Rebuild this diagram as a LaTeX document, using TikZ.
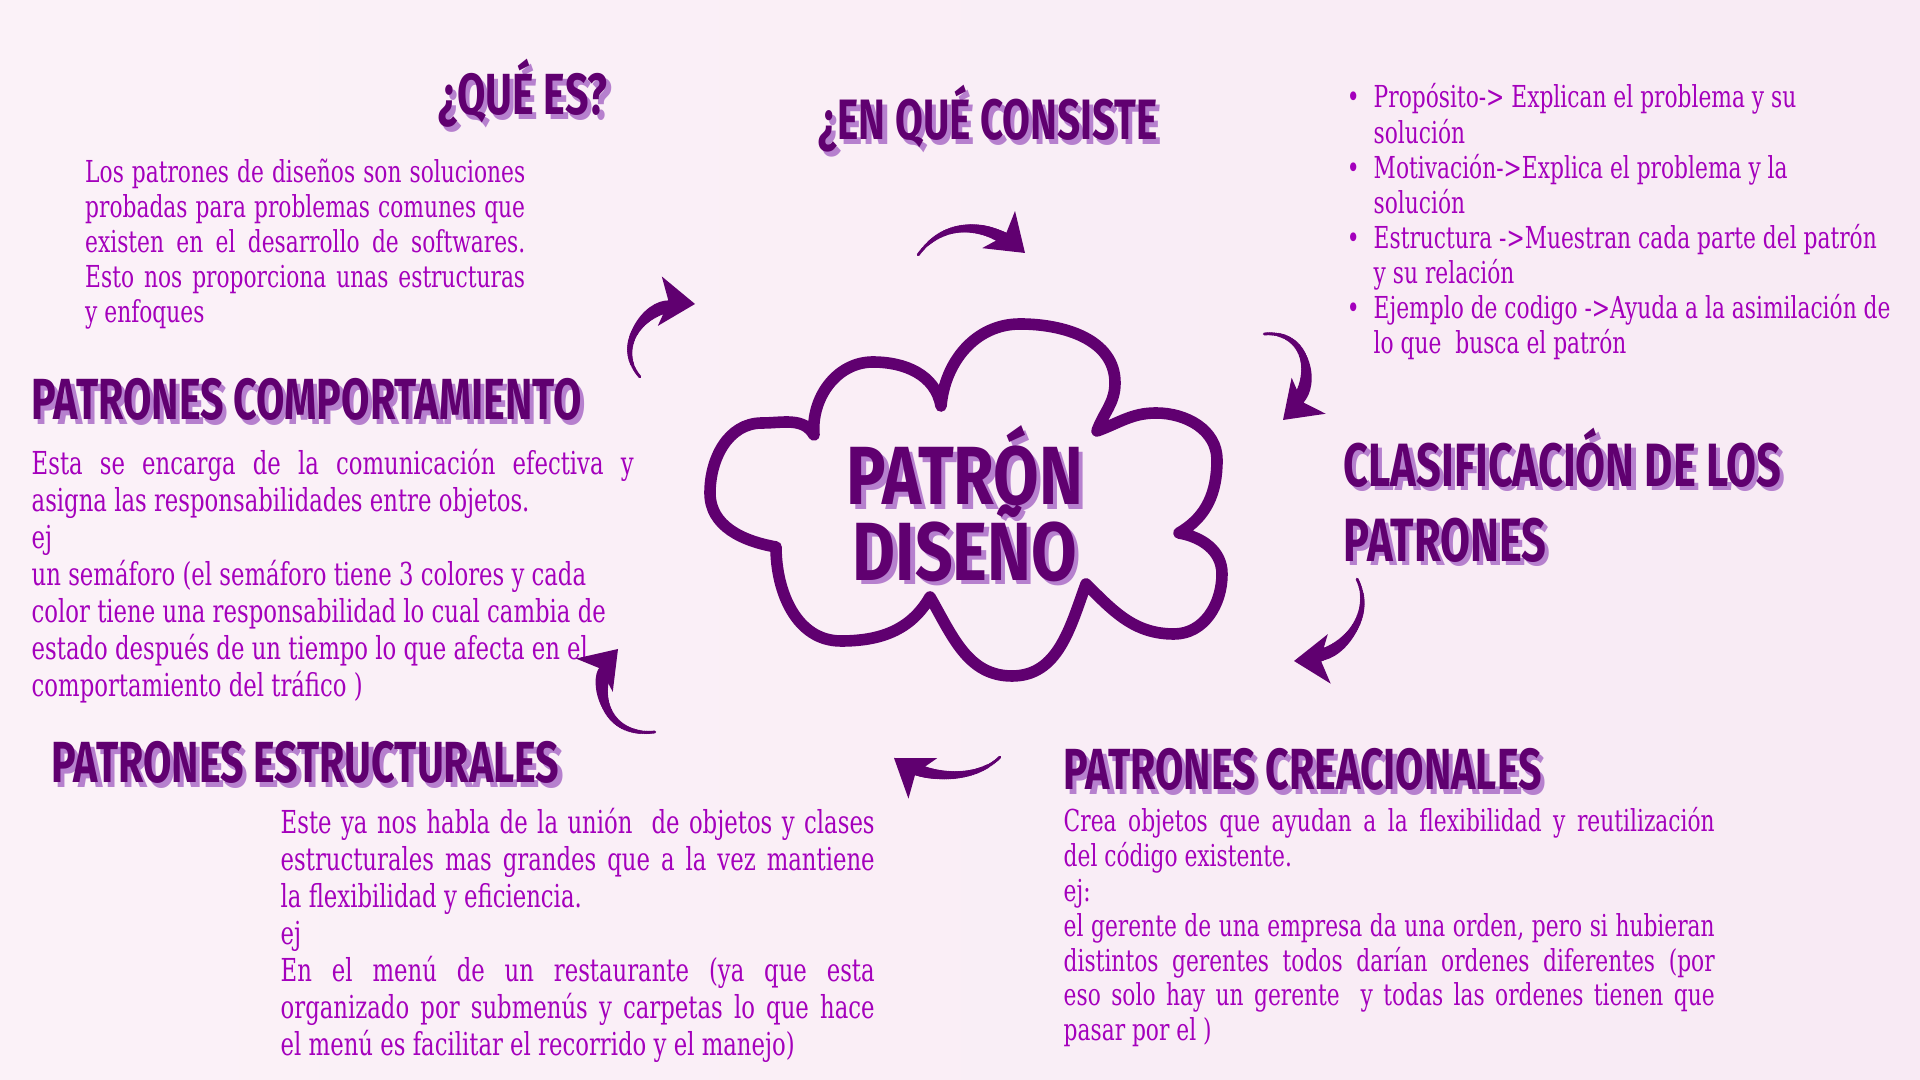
\documentclass[tikz,border=0pt]{standalone}
\usepackage{fontspec}
\usetikzlibrary{arrows.meta, decorations.markings}

\newfontfamily\bodyfont{DejaVu Serif}[FakeStretch=0.72]
\newfontfamily\headfont{Fira Sans}[FakeStretch=0.71]
\newfontfamily\titlefont{Fira Sans}[FakeStretch=0.80]

\definecolor{ink}{RGB}{96,0,112}
\definecolor{txt}{RGB}{164,0,188}
\definecolor{shade}{RGB}{182,128,206}
\definecolor{bgl}{RGB}{251,242,248}
\definecolor{bgm}{RGB}{249,244,250}
\definecolor{bgr}{RGB}{248,234,244}

% heading text with its light offset copy
\newcommand{\shad}[1]{\makebox[0pt][l]{\hspace{1.2pt}\raisebox{-1.2pt}{\textcolor{shade}{#1}}}#1}

\begin{document}
\begin{tikzpicture}[
            every node/.style={inner sep=0pt},
            heading/.style={
                text=ink,
                font={\headfont\bfseries\fontsize{16.5}{21.3}\selectfont\lineskiplimit-50pt}
            },
            body/.style={
                text=txt,
                anchor=north west,
                align=justify,
                font=\bodyfont\fontsize{9}{10.5}\selectfont
            },
            cloudline/.style={draw=ink, line width=3.3pt, line join=round, line cap=round},
            brush/.style={draw=ink, line width=0.8pt,
                -{Stealth[length=10pt, width=14pt, inset=2.5pt]},
                postaction={decorate, decoration={markings,
                    mark=between positions 0 and 0.88 step 0.5pt with {
                        \fill[ink] (0,0) circle[radius=0.35pt+1.75pt*\pgfkeysvalueof{/pgf/decoration/mark info/distance from start}/\pgfdecoratedpathlength];
                    }}}}
        ]

        % Background
        \shade[left color=bgl, middle color=bgm, right color=bgr] (0,0) rectangle (19.2,10.8);
        \useasboundingbox (0,0) rectangle (19.2,10.8);

        % Cloud
        \draw[cloudline] (7.76,5.33)
            to[out=170,in=-90] (7.10,5.87)
            to[out=90,in=180] (7.62,6.57)
            to[out=0,in=120] (8.14,6.45)
            to[out=95,in=180] (8.73,7.18)
            to[out=0,in=100] (9.41,6.74)
            to[out=85,in=180] (10.20,7.56)
            to[out=0,in=90] (11.15,6.97)
            to[out=-90,in=70] (10.97,6.49)
            to[out=20,in=180] (11.56,6.67)
            to[out=0,in=90] (12.17,6.20)
            to[out=-90,in=30] (11.79,5.47)
            to[out=-10,in=90] (12.22,5.06)
            to[out=-90,in=0] (11.74,4.46)
            to[out=180,in=-45] (10.86,4.96)
            to[out=-110,in=0] (10.12,4.04)
            to[out=180,in=-60] (9.30,4.83)
            to[out=-120,in=0] (8.41,4.39)
            to[out=180,in=-90] (7.76,5.33) -- cycle;

        % Nodes
        \node[heading, align=center, font={\titlefont\bfseries\fontsize{23.5}{21.5}\selectfont\lineskiplimit-50pt}]
            (title) at (9.65,5.74) {\shad{PATRÓN}\\\shad{DISEÑO}};

        \node[heading, anchor=base] (quees) at (5.23,9.65) {\shad{¿QUÉ ES?}};
        \node[body, text width=4.40cm, font=\bodyfont\fontsize{8.6}{10}\selectfont]
            (quetxt) at (0.845,9.22) {Los patrones de diseños son soluciones\linebreak
            probadas para problemas comunes que\linebreak
            existen en el desarrollo de softwares.\linebreak
            Esto nos proporciona unas estructuras\linebreak
            y enfoques};

        \node[heading, anchor=base, font=\headfont\bfseries\fontsize{16.2}{18}\selectfont]
            (consiste) at (9.88,9.40) {\shad{¿EN QUÉ CONSISTE}};
        \node[text=txt, anchor=north west, align=left, font=\bodyfont\fontsize{8.6}{10}\selectfont]
            (partes) at (13.73,9.97) {\llap{\textbullet\hspace{4pt}}Propósito-> Explican el problema y su\\
            solución\\
            \llap{\textbullet\hspace{4pt}}Motivación->Explica el problema y la\\
            solución\\
            \llap{\textbullet\hspace{4pt}}Estructura ->Muestran cada parte del patrón\\
            y su relación\\
            \llap{\textbullet\hspace{4pt}}Ejemplo de codigo ->Ayuda a la asimilación de\\
            lo que\ \ busca el patrón};

        \node[heading, align=left, anchor=west, font={\headfont\bfseries\fontsize{17.4}{21.3}\selectfont\lineskiplimit-50pt}]
            (clasif) at (13.43,5.83) {\shad{CLASIFICACIÓN DE LOS}\\\shad{PATRONES}};

        \node[heading, anchor=base west] (crea) at (10.63,2.90) {\shad{PATRONES CREACIONALES}};
        \node[body, text width=6.51cm, font=\bodyfont\fontsize{8.6}{9.9}\selectfont]
            (creatxt) at (10.63,2.73) {Crea objetos que ayudan a la flexibilidad y reutilización\linebreak
            del código existente.\newline
            ej:\newline
            el gerente de una empresa da una orden, pero si hubieran\linebreak
            distintos gerentes todos darían ordenes diferentes (por\linebreak
            eso solo hay un gerente\ \ y todas las ordenes tienen que\linebreak
            pasar por el )};

        \node[heading, anchor=base west] (estr) at (0.51,2.97) {\shad{PATRONES ESTRUCTURALES}};
        \node[body, text width=5.94cm] (estrtxt) at (2.80,2.72)
            {Este ya nos habla de la unión\ \ de objetos y clases\linebreak
            estructurales mas grandes que a la vez mantiene\linebreak
            la flexibilidad y eficiencia.\newline
            ej\newline
            En el menú de un restaurante (ya que esta\linebreak
            organizado por submenús y carpetas lo que hace\linebreak
            el menú es facilitar el recorrido y el manejo)};

        \node[heading, anchor=base west] (comp) at (0.31,6.60) {\shad{PATRONES COMPORTAMIENTO}};
        \node[body, text width=6.02cm] (comptxt) at (0.31,6.31)
            {Esta se encarga de la comunicación efectiva y\linebreak
            asigna las responsabilidades entre objetos.\newline
            ej\newline
            un semáforo (el semáforo tiene 3 colores y cada\newline
            color tiene una responsabilidad lo cual cambia de\newline
            estado después de un tiempo lo que afecta en el\newline
            comportamiento del tráfico )};

        % Arrows
        \coordinate (a1s) at (6.40,7.03);
        \coordinate (a1e) at (6.95,7.76);
        \coordinate (a2s) at (9.18,8.25);
        \coordinate (a2e) at (10.25,8.27);
        \coordinate (a3s) at (12.64,7.46);
        \coordinate (a3e) at (12.83,6.60);
        \coordinate (a4s) at (13.57,5.01);
        \coordinate (a4e) at (12.94,4.19);
        \coordinate (a5s) at (10.00,3.23);
        \coordinate (a5e) at (8.94,3.22);
        \coordinate (a6s) at (6.55,3.48);
        \coordinate (a6e) at (6.18,4.31);

        \draw[brush] (a1s) .. controls (6.12,7.35) and (6.45,7.80) .. (a1e);
        \draw[brush] (a2s) .. controls (9.45,8.62) and (9.90,8.58) .. (a2e);
        \draw[brush] (a3s) .. controls (13.10,7.50) and (13.20,6.95) .. (a3e);
        \draw[brush] (a4s) .. controls (13.75,4.65) and (13.45,4.22) .. (a4e);
        \draw[brush] (a5s) .. controls (9.75,2.98) and (9.25,3.00) .. (a5e);
        \draw[brush] (a6s) .. controls (6.00,3.42) and (5.90,4.00) .. (a6e);

        \end{tikzpicture}
\end{document}
